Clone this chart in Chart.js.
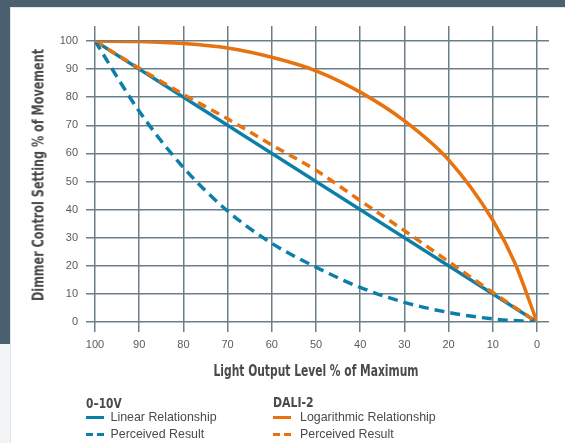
<!DOCTYPE html>
<html><head><meta charset="utf-8">
<script src="https://cdn.jsdelivr.net/npm/chart.js@4.4.0/dist/chart.umd.min.js"></script>
<style>
html,body{margin:0;padding:0;width:565px;height:443px;overflow:hidden;background:#f1f3f4;}
.bg{position:absolute;background:#4b606e}
#card{position:absolute;left:10px;top:7px;width:555px;height:436px;background:#fff;border-left:1px solid #e1e6e8;border-top:1px solid #e1e6e8;box-sizing:border-box}
canvas{position:absolute;left:0;top:0}
.t{position:absolute;white-space:nowrap;color:#4a4a4a;font-family:'Liberation Sans',Arial,sans-serif;font-size:12.4px;line-height:12.4px}
.h,.at{white-space:nowrap;color:#4a4a4a;font-family:'Liberation Sans Narrow','Arial Narrow','DejaVu Sans Condensed',sans-serif;font-weight:bold}
.h{position:absolute;font-size:14.5px;line-height:14.5px;transform-origin:0 50%}
.anchor{position:absolute;width:0;height:0}
.at{position:absolute;left:0;top:0;font-size:15px;line-height:15px}
.sw{position:absolute;height:3px}
</style></head>
<body>
<div class="bg" style="left:0;top:0;width:565px;height:7px"></div>
<div class="bg" style="left:0;top:0;width:10px;height:344px"></div>
<div id="card"></div>
<canvas id="c" width="565" height="443"></canvas>

<div class="anchor" style="left:316px;top:370.5px"><div class="at" id="xt" data-w="205"></div></div>
<div class="anchor" style="left:38.7px;top:175px"><div class="at" id="yt" data-w="252" data-rot="1"></div></div>

<div class="h" id="h1" data-w="35.7" style="left:86px;top:396px">0–10V</div>
<div class="sw" style="left:86px;top:416px;width:18px;background:#0c7fa9"></div>
<div class="t" style="left:110.5px;top:411px">Linear Relationship</div>
<div class="sw" style="left:86px;top:433px;width:7px;background:#0c7fa9"></div>
<div class="sw" style="left:97px;top:433px;width:7px;background:#0c7fa9"></div>
<div class="t" style="left:110.5px;top:428px">Perceived Result</div>

<div class="h" id="h2" data-w="40.6" style="left:272.5px;top:395px">DALI-2</div>
<div class="sw" style="left:272.5px;top:416px;width:18px;background:#e8720d"></div>
<div class="t" style="left:300px;top:411px">Logarithmic Relationship</div>
<div class="sw" style="left:272.5px;top:433px;width:7px;background:#e8720d"></div>
<div class="sw" style="left:283.5px;top:433px;width:7px;background:#e8720d"></div>
<div class="t" style="left:300px;top:428px">Perceived Result</div>

<script>
// ---- data ----
const xTickValues = [100, 90, 80, 70, 60, 50, 40, 30, 20, 10, 0];
const yTickValues = [0, 10, 20, 30, 40, 50, 60, 70, 80, 90, 100];

const linearX = [100, 0];
const linearY = [100, 0];

const perceived010X = [100, 90, 80, 70, 60, 50, 40, 30, 20, 10, 0];
const perceived010Y = [100, 75, 55, 39.5, 28, 19.5, 12.3, 7, 3.4, 1.1, 0];

const logX = [100, 90, 80, 70, 60, 50, 40, 30, 20, 10, 5, 0];
const logY = [100, 99.8, 99.1, 97.5, 94.2, 89.4, 81.8, 71.6, 57.7, 36.2, 21, 0];

const perceivedDaliX = [100, 90, 80, 70, 60, 50, 40, 30, 20, 10, 0];
const perceivedDaliY = [100, 90.3, 81, 72.3, 63, 54, 43.2, 32.5, 21.5, 10.5, 0];

const xTitle = 'Light Output Level % of Maximum';
const yTitle = 'Dimmer Control Setting % of Movement';

// ---- axis titles / headings: fit condensed text to the reference widths ----
document.getElementById('xt').textContent = xTitle;
document.getElementById('yt').textContent = yTitle;
['xt', 'yt'].forEach(id => {
  const el = document.getElementById(id);
  const sc = parseFloat(el.dataset.w) / el.getBoundingClientRect().width;
  el.style.transform = 'translate(-50%,-50%)' + (el.dataset.rot ? ' rotate(-90deg)' : '') + ' scaleX(' + sc + ')';
});
['h1', 'h2'].forEach(id => {
  const el = document.getElementById(id);
  const sc = parseFloat(el.dataset.w) / el.getBoundingClientRect().width;
  el.style.transform = 'scaleX(' + sc + ')';
});

// ---- chart ----
const BLUE = '#0c7fa9', ORANGE = '#e8720d';
const GRID = '#6c7e88';
const pts = (xs, ys) => xs.map((x, i) => ({ x: x, y: ys[i] }));
const tickFont = { family: "'Liberation Sans', Arial, sans-serif", size: 11 };
const setX = s => { s.ticks = xTickValues.map(v => ({ value: v })); };
const setY = s => { s.ticks = yTickValues.map(v => ({ value: v })); };

new Chart(document.getElementById('c'), {
  type: 'line',
  data: {
    datasets: [
      { label: 'Logarithmic Relationship', data: pts(logX, logY), borderColor: ORANGE, borderWidth: 3.5, cubicInterpolationMode: 'monotone' },
      { label: 'Perceived Result (0–10V)', data: pts(perceived010X, perceived010Y), borderColor: BLUE, borderWidth: 3.5, borderDash: [10, 6], cubicInterpolationMode: 'monotone' },
      { label: 'Perceived Result (DALI-2)', data: pts(perceivedDaliX, perceivedDaliY), borderColor: ORANGE, borderWidth: 3.5, borderDash: [9, 6], cubicInterpolationMode: 'monotone' },
      { label: 'Linear Relationship', data: pts(linearX, linearY), borderColor: BLUE, borderWidth: 3.5 }
    ]
  },
  options: {
    responsive: false,
    animation: false,
    elements: { point: { radius: 0 } },
    plugins: { legend: { display: false }, tooltip: { enabled: false } },
    layout: { padding: { left: 0, top: 26, right: 16, bottom: 61 } },
    scales: {
      x: {
        type: 'linear', position: 'bottom', min: 0, max: 100, reverse: true,
        afterBuildTicks: setX,
        afterFit: s => { s.height = 60; },
        grid: { color: GRID, lineWidth: 1.5, tickLength: 10, drawTicks: true },
        border: { display: false },
        ticks: { font: tickFont, color: '#5a5a5a', padding: 6, maxRotation: 0, autoSkip: false },
        title: { display: false }
      },
      xTop: {
        type: 'linear', position: 'top', min: 0, max: 100, reverse: true,
        afterBuildTicks: setX,
        afterFit: s => { s.height = 15; },
        grid: { color: GRID, lineWidth: 1.5, tickLength: 15, drawOnChartArea: false },
        border: { display: false },
        ticks: { display: false }
      },
      y: {
        type: 'linear', position: 'left', min: 0, max: 100,
        afterBuildTicks: setY,
        afterFit: s => { s.width = 95; },
        grid: { color: GRID, lineWidth: 1.5, tickLength: 9, drawTicks: true },
        border: { display: false },
        ticks: { font: tickFont, color: '#5a5a5a', padding: 8 },
        title: { display: false }
      },
      yRight: {
        type: 'linear', position: 'right', min: 0, max: 100,
        afterBuildTicks: setY,
        afterFit: s => { s.width = 12; },
        grid: { color: GRID, lineWidth: 1.5, tickLength: 12, drawOnChartArea: false },
        border: { display: false },
        ticks: { display: false }
      }
    }
  }
});
</script>
</body></html>
